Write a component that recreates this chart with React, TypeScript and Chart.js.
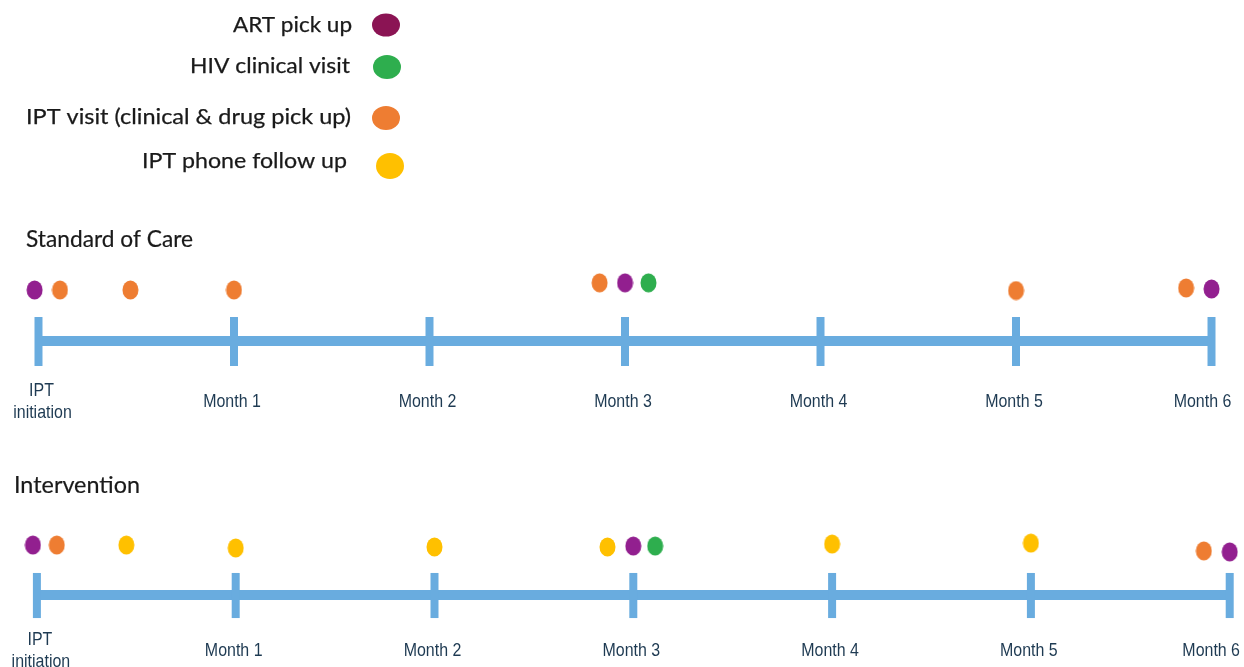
import React, { useEffect, useRef } from "react";
import { Chart, registerables } from "chart.js";

Chart.register(...registerables);

// ---------- data ----------
const months = [0, 1, 2, 3, 4, 5, 6];
const monthLabels = [["IPT", "initiation"], ["Month 1"], ["Month 2"], ["Month 3"], ["Month 4"], ["Month 5"], ["Month 6"]];
const rowTitles = ["Standard of Care", "Intervention"];

const legendLabels = ["ART pick up", "HIV clinical visit", "IPT visit (clinical & drug pick up)", "IPT phone follow up"];
const legendColors = ["#8b1454", "#2eae4e", "#ee7d32", "#ffc000"];

// x = month, y = height of the dot above the timeline (lane units)
const socArt = [{ x: -0.02, y: 1.0 }, { x: 3.0, y: 1.14 }, { x: 6.0, y: 1.02 }];
const socHiv = [{ x: 3.12, y: 1.14 }];
const socIpt = [{ x: 0.11, y: 1.0 }, { x: 0.47, y: 1.0 }, { x: 1.0, y: 1.0 }, { x: 2.87, y: 1.14 }, { x: 5.0, y: 0.99 }, { x: 5.87, y: 1.04 }];

const intArt = [{ x: -0.02, y: 1.02 }, { x: 3.0, y: 1.0 }, { x: 6.0, y: 0.88 }];
const intHiv = [{ x: 3.11, y: 1.0 }];
const intIpt = [{ x: 0.1, y: 1.02 }, { x: 5.87, y: 0.9 }];
const intPhone = [{ x: 0.45, y: 1.02 }, { x: 1.0, y: 0.96 }, { x: 2.0, y: 0.98 }, { x: 2.87, y: 0.98 }, { x: 4.0, y: 1.04 }, { x: 5.0, y: 1.06 }];

// ---------- styles ----------
const BLUE = "#69acdf";
const PURPLE = "#921f8f";
const GREEN = "#2eae4e";
const ORANGE = "#ee7d32";
const YELLOW = "#ffc000";
const LABEL_COLOR = "#1e3a52";
const TEXT_COLOR = "#1a1a1a";
const LABEL_FONT = "19px 'Liberation Sans'";
const LABEL_SX = 0.84;

function makeDot(color: string, w: number, h: number) {
  const c = document.createElement("canvas");
  c.width = w;
  c.height = h;
  const g = c.getContext("2d")!;
  g.fillStyle = color;
  g.beginPath();
  g.ellipse(w / 2, h / 2, w / 2 - 0.5, h / 2 - 0.5, 0, 0, Math.PI * 2);
  g.fill();
  return c;
}

function drawText(ctx: CanvasRenderingContext2D, text: string, x: number, y: number, font: string, color: string, align: CanvasTextAlign, sx: number, stroke = 0) {
  ctx.save();
  ctx.font = font;
  ctx.fillStyle = color;
  ctx.textAlign = align;
  ctx.textBaseline = "alphabetic";
  ctx.translate(x, y);
  ctx.scale(sx, 1);
  ctx.fillText(text, 0, 0);
  if (stroke > 0) {
    ctx.strokeStyle = color;
    ctx.lineWidth = stroke;
    ctx.lineJoin = "round";
    ctx.strokeText(text, 0, 0);
  }
  ctx.restore();
}

function drawFit(ctx: CanvasRenderingContext2D, text: string, x: number, y: number, font: string, color: string, align: CanvasTextAlign, width: number, stroke = 0) {
  ctx.save();
  ctx.font = font;
  const m = ctx.measureText(text).width;
  ctx.restore();
  drawText(ctx, text, x, y, font, color, align, width / m, stroke);
}

const textPlugin = {
  id: "timelineText",
  afterDraw(chart: any) {
    const ctx = chart.ctx as CanvasRenderingContext2D;
    const { xs, ys, xi, yi } = chart.scales;

    // legend
    const legendRight = [352, 350, 351, 347];
    const legendWidths = [119, 160, 325, 205];
    const legendBase = [32, 73, 124, 168];
    const dotPos = [[386, 25], [387, 67], [386, 118], [390, 166]];
    const dotSize = [[28, 23], [28, 24], [28, 24], [28, 26]];
    legendLabels.forEach((lab, i) => {
      drawFit(ctx, lab, legendRight[i], legendBase[i], "21px Lato", TEXT_COLOR, "right", legendWidths[i], 0.25);
      ctx.save();
      ctx.fillStyle = legendColors[i];
      ctx.beginPath();
      ctx.ellipse(dotPos[i][0], dotPos[i][1], dotSize[i][0] / 2, dotSize[i][1] / 2, 0, 0, Math.PI * 2);
      ctx.fill();
      ctx.restore();
    });

    // row titles
    drawFit(ctx, rowTitles[0], 26, 247, "24px Lato", TEXT_COLOR, "left", 167, 0.2);
    drawFit(ctx, rowTitles[1], 14, 493, "24px Lato", TEXT_COLOR, "left", 126, 0.2);

    // month labels
    const rows = [
      { x: xs, y: ys, one: 66, first: [55, 77] },
      { x: xi, y: yi, one: 61, first: [50, 72] },
    ];
    const W = chart.width;
    rows.forEach((r) => {
      const base = r.y.getPixelForValue(0);
      months.forEach((m, i) => {
        const px = r.x.getPixelForValue(m);
        const lines = monthLabels[i];
        if (lines.length === 1) {
          ctx.save();
          ctx.font = LABEL_FONT;
          const half = (ctx.measureText(lines[0]).width * LABEL_SX) / 2;
          ctx.restore();
          let cx = i === months.length - 1 ? px - 9 : px - 2;
          cx = Math.min(cx, W - 4 - half);
          drawText(ctx, lines[0], cx, base + r.one, LABEL_FONT, LABEL_COLOR, "center", LABEL_SX);
        } else {
          drawText(ctx, lines[0], px + 3, base + r.first[0], LABEL_FONT, LABEL_COLOR, "center", LABEL_SX);
          drawText(ctx, lines[1], px + 4, base + r.first[1], LABEL_FONT, LABEL_COLOR, "center", LABEL_SX);
        }
      });
    });
  },
};

export default function App() {
  const ref = useRef<HTMLCanvasElement | null>(null);

  useEffect(() => {
    if (!ref.current) return;
    const dot = (c: string) => makeDot(c, 17, 20);

    const lineSet = (xAxisID: string, yAxisID: string) => ({
      data: [{ x: months[0], y: 0 }, { x: months[months.length - 1], y: 0 }],
      xAxisID,
      yAxisID,
      showLine: true,
      borderColor: BLUE,
      borderWidth: 10,
      borderCapStyle: "butt",
      pointRadius: 0,
      order: 2,
    });
    const tickSets = (xAxisID: string, yAxisID: string, lo: number, hi: number) =>
      months.map((m) => ({
        data: [{ x: m, y: lo }, { x: m, y: hi }],
        xAxisID,
        yAxisID,
        showLine: true,
        borderColor: BLUE,
        borderWidth: 8,
        borderCapStyle: "butt",
        pointRadius: 0,
        order: 1,
      }));
    const dotSet = (data: any[], color: string, xAxisID: string, yAxisID: string) => ({
      data,
      xAxisID,
      yAxisID,
      pointStyle: dot(color),
      pointRadius: 10,
      backgroundColor: color,
      borderWidth: 0,
      showLine: false,
      order: 0,
    });

    const chart = new Chart(ref.current, {
      type: "scatter",
      data: {
        datasets: [
          dotSet(socArt, PURPLE, "xs", "ys"),
          dotSet(socHiv, GREEN, "xs", "ys"),
          dotSet(socIpt, ORANGE, "xs", "ys"),
          dotSet(intArt, PURPLE, "xi", "yi"),
          dotSet(intHiv, GREEN, "xi", "yi"),
          dotSet(intIpt, ORANGE, "xi", "yi"),
          dotSet(intPhone, YELLOW, "xi", "yi"),
          lineSet("xs", "ys"),
          lineSet("xi", "yi"),
          ...tickSets("xs", "ys", -0.49, 0.47),
          ...tickSets("xi", "yi", -0.47, 0.45),
        ] as any,
      },
      options: {
        animation: false,
        responsive: false,
        devicePixelRatio: 1,
        events: [],
        layout: { padding: 0, autoPadding: false },
        plugins: { legend: { display: false }, tooltip: { enabled: false } },
        scales: {
          xs: { type: "linear", display: false, min: -0.1969, max: 6.1662 },
          ys: { type: "linear", display: false, min: -6.392, max: 6.686 },
          xi: { type: "linear", display: false, min: -0.1856, max: 6.0719 },
          yi: { type: "linear", display: false, min: -1.469, max: 12.143 },
        },
      } as any,
      plugins: [textPlugin],
    });
    return () => chart.destroy();
  }, []);

  return (
    <div style={{ position: "absolute", left: 0, top: 0, width: 1244, height: 667, background: "#fff" }}>
      <canvas ref={ref} width={1244} height={667} style={{ display: "block" }} />
    </div>
  );
}
